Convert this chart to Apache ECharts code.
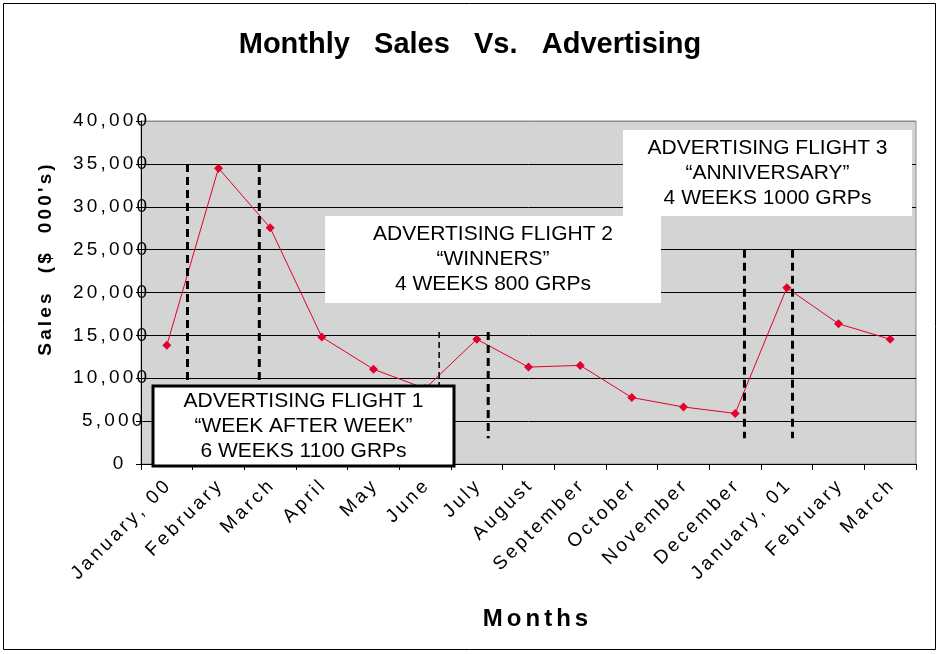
<!DOCTYPE html>
<html>
<head>
<meta charset="utf-8">
<script src="https://cdn.jsdelivr.net/npm/echarts@6/dist/echarts.min.js"></script>
<style>
  html, body { margin: 0; padding: 0; background: #fff; }
  #chart { width: 940px; height: 654px; }
</style>
</head>
<body>
<div id="chart"></div>
<script>
// months on the x axis
var months = ['January, 00', 'February', 'March', 'April', 'May', 'June', 'July', 'August',
  'September', 'October', 'November', 'December', 'January, 01', 'February', 'March'];
// sales in $000's
var sales = [13850, 34500, 27550, 14800, 11050, 8800, 14550, 11300, 11500, 7750, 6650, 5900, 20550, 16350, 14550];

// advertising flights: dashed lines at fractional category positions, from/to in sales units
var flightLines = [
  { x: 0.40, from: 35000, to: 9000, width: 3 },
  { x: 1.79, from: 35000, to: 9000, width: 3 },
  { x: 5.27, from: 15400, to: 9200, width: 1.5 },
  { x: 6.22, from: 15400, to: 3000, width: 3 },
  { x: 11.18, from: 25000, to: 3000, width: 3 },
  { x: 12.11, from: 25000, to: 3000, width: 3 }
];
var flightText = [
  'ADVERTISING FLIGHT 1\n\u201CWEEK AFTER WEEK\u201D\n6 WEEKS 1100 GRPs',
  'ADVERTISING FLIGHT 2\n\u201CWINNERS\u201D\n4 WEEKS 800 GRPs',
  'ADVERTISING FLIGHT 3\n\u201CANNIVERSARY\u201D\n4 WEEKS 1000 GRPs'
];

var font = 'Liberation Sans, Arial, sans-serif';
var chart = echarts.init(document.getElementById('chart'));

// the old chart draws its axis text with wide letter spacing
function spread(s) {
  return s.split('').join('\u2006');
}

var option = {
  animation: false,
  backgroundColor: '#ffffff',
  title: {
    text: 'Monthly   Sales   Vs.   Advertising',
    left: 'center',
    top: 25,
    textStyle: { fontFamily: font, fontSize: 29, fontWeight: 'bold', color: '#000' }
  },
  grid: {
    left: 141, right: 24, top: 121, bottom: 190,
    show: true,
    backgroundColor: '#d4d4d4',
    borderColor: '#8c8c8c',
    borderWidth: 1
  },
  xAxis: {
    type: 'category',
    data: months,
    boundaryGap: true,
    name: spread('Months'),
    nameLocation: 'middle',
    nameGap: 143,
    nameTextStyle: { fontFamily: font, fontSize: 24, fontWeight: 'bold', color: '#000', padding: [0, 0, 0, 14] },
    axisLine: { lineStyle: { color: '#000', width: 1 } },
    axisTick: { show: true, length: 6, lineStyle: { color: '#000' } },
    axisLabel: {
      rotate: 45, interval: 0, margin: 20,
      fontFamily: font, fontSize: 19, color: '#000',
      formatter: function (v) { return spread(v); }
    }
  },
  yAxis: {
    type: 'value',
    min: 0, max: 40000, interval: 5000,
    axisLine: { show: true, lineStyle: { color: '#000', width: 1 } },
    axisTick: { show: true, length: 5, lineStyle: { color: '#000' } },
    splitLine: {
      show: true,
      lineStyle: { color: ['#000', '#000', '#000', '#000', '#000', '#000', '#000', '#000', '#8c8c8c'], width: 1 }
    },
    axisLabel: {
      margin: -6,
      fontFamily: font, fontSize: 19, color: '#000',
      formatter: function (v) {
        var s = echarts.format.addCommas(v);
        var pad = '';
        for (var i = s.length; i < 6; i++) pad += '\u2005';
        return spread(s) + pad;
      }
    }
  },
  series: [{
    type: 'line',
    data: sales,
    symbol: 'diamond',
    symbolSize: 9,
    itemStyle: { color: '#e3002c' },
    lineStyle: { color: '#e3002c', width: 1 },
    z: 3
  }]
};
chart.setOption(option);

function catX(f) {
  var p0 = chart.convertToPixel({ xAxisIndex: 0 }, 0);
  var p1 = chart.convertToPixel({ xAxisIndex: 0 }, 1);
  return p0 + f * (p1 - p0);
}
function valY(v) {
  return chart.convertToPixel({ yAxisIndex: 0 }, v);
}

var elements = [];
flightLines.forEach(function (l) {
  var x = catX(l.x);
  elements.push({
    type: 'line', z: 50,
    shape: { x1: x, y1: valY(l.from), x2: x, y2: valY(l.to) },
    style: { stroke: '#000', lineWidth: l.width, lineDash: l.width > 2 ? [8, 5] : [6, 4] }
  });
});

var boxes = [
  { x: 153, y: 386, w: 301, h: 80, border: true, text: flightText[0] },
  { x: 325, y: 216, w: 336, h: 87, border: false, text: flightText[1] },
  { x: 623, y: 130, w: 289, h: 86, border: false, text: flightText[2] }
];
boxes.forEach(function (b) {
  elements.push({
    type: 'rect', z: 60,
    shape: { x: b.x, y: b.y, width: b.w, height: b.h },
    style: { fill: '#fff', stroke: b.border ? '#000' : null, lineWidth: b.border ? 3 : 0 }
  });
  elements.push({
    type: 'text', z: 61,
    x: b.x + b.w / 2, y: b.y + b.h / 2,
    style: {
      text: b.text, fill: '#000',
      font: '21px ' + font,
      lineHeight: 25,
      align: 'center', verticalAlign: 'middle'
    }
  });
});

// y axis title, sitting above the middle of the plot like the original
elements.push({
  type: 'text', z: 61,
  x: 46, y: 260,
  rotation: Math.PI / 2,
  style: {
    text: spread('Sales  ($  000\'s)'), fill: '#000',
    font: 'bold 19px ' + font,
    align: 'center', verticalAlign: 'middle'
  }
});

// outer frame
elements.push({
  type: 'rect', z: 70,
  shape: { x: 3.5, y: 3.5, width: 932, height: 646 },
  style: { fill: null, stroke: '#000', lineWidth: 1 }
});

chart.setOption({ graphic: { elements: elements } });
</script>
</body>
</html>
